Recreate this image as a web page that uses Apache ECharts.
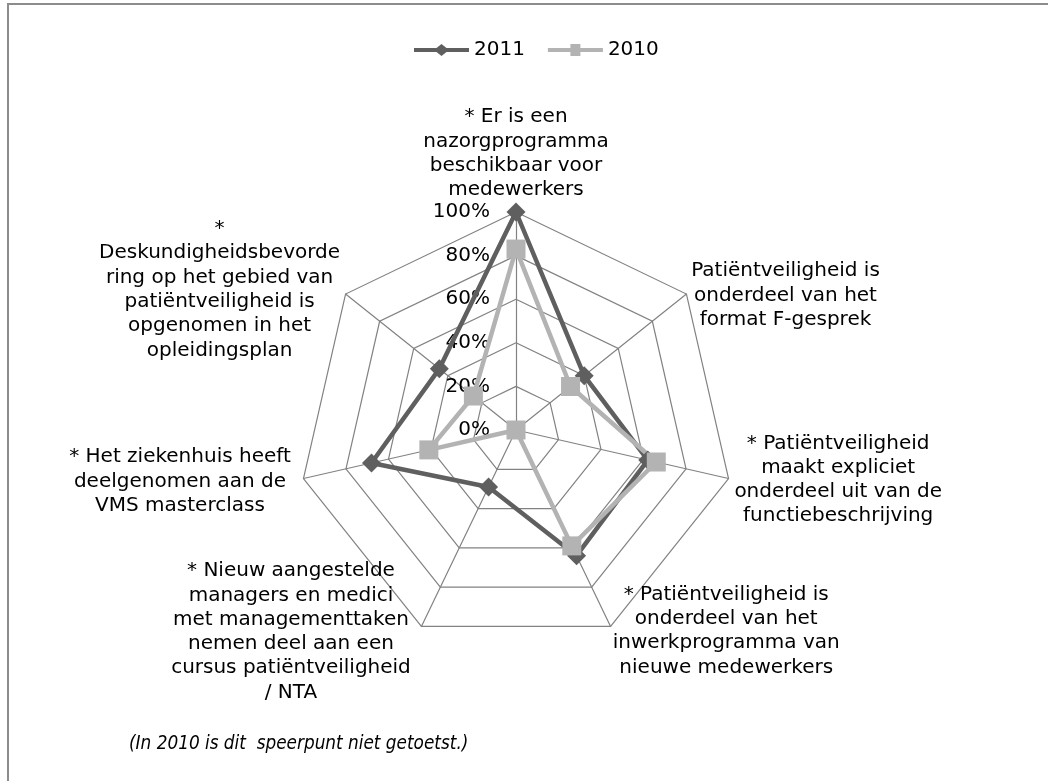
<!DOCTYPE html>
<html>
<head>
<meta charset="utf-8">
<script src="https://cdn.jsdelivr.net/npm/echarts@6/dist/echarts.min.js"></script>
<style>
html,body{margin:0;padding:0;background:#fff;}
#frame{position:absolute;left:7px;top:3px;width:1100px;height:900px;border-top:2px solid #8c8c8c;border-left:2px solid #8c8c8c;}
#chart{position:absolute;left:0;top:0;width:1048px;height:781px;}
</style>
</head>
<body>
<div id="frame"></div>
<div id="chart"></div>
<script>
// Indicators listed clockwise from the top (as in the reference)
const categories = [
  "* Er is een\nnazorgprogramma\nbeschikbaar voor\nmedewerkers",
  "Patiëntveiligheid is\nonderdeel van het\nformat F-gesprek",
  "* Patiëntveiligheid\nmaakt expliciet\nonderdeel uit van de\nfunctiebeschrijving",
  "* Patiëntveiligheid is\nonderdeel van het\ninwerkprogramma van\nnieuwe medewerkers",
  "* Nieuw aangestelde\nmanagers en medici\nmet managementtaken\nnemen deel aan een\ncursus patiëntveiligheid\n/ NTA",
  "* Het ziekenhuis heeft\ndeelgenomen aan de\nVMS masterclass",
  "*\nDeskundigheidsbevorde\nring op het gebied van\npatiëntveiligheid is\nopgenomen in het\nopleidingsplan"
];
const values2011 = [100, 40, 62, 64, 29, 68, 45];
const values2010 = [83, 32, 66, 59, 0, 41, 25];
const seriesNames = ["2011", "2010"];
const tickLabels = ["0%", "20%", "40%", "60%", "80%", "100%"];
const footnote = "(In 2010 is dit  speerpunt niet getoetst.)";

// ---- layout / style (not data) ----
// ECharts lays indicators counter-clockwise; reorder so they appear clockwise
const order = [0, 6, 5, 4, 3, 2, 1];
const nameGaps = [8, 6, 6, 5, 6, 13, 7];
const namePads = [null, [10, 0, 0, 0], null, null, [0, 8, 0, 0], null, null];
const FONT = "'DejaVu Sans', Verdana, sans-serif";
const FS = 20;
const LH = 24.3;
const DARK = '#5f5f5f';
const LIGHT = '#b3b3b3';

const indicator = order.map((i, k) => {
  const ind = { name: categories[i], min: 0, max: 100, nameGap: nameGaps[i] };
  if (namePads[i]) ind.nameTextStyle = { padding: namePads[i] };
  if (k === 0) {
    ind.axisLabel = {
      show: true,
      color: '#000',
      fontFamily: FONT,
      fontSize: FS,
      margin: 26,
      padding: [5, 0, 0, 0],
      formatter: function (v) { return tickLabels[Math.round(v / 20)]; }
    };
  }
  return ind;
});

const legendIcons = [
  'path://M0,4 H22.5 L27.5,0 L32.5,4 H55 V8 H32.5 L27.5,12 L22.5,8 H0 Z',
  'path://M0,4 H22.5 V0 H32.5 V4 H55 V8 H32.5 V12 H22.5 V8 H0 Z'
];

const chart = echarts.init(document.getElementById('chart'), null, { renderer: 'canvas' });
chart.setOption({
  animation: false,
  backgroundColor: 'transparent',
  title: {
    text: footnote,
    left: 129,
    top: 735,
    padding: 0,
    textStyle: {
      fontFamily: "'Liberation Sans Narrow', 'DejaVu Sans Condensed', sans-serif",
      fontStyle: 'italic',
      fontWeight: 'normal',
      fontSize: 18.8,
      color: '#000'
    }
  },
  legend: {
    data: seriesNames.map((n, i) => ({ name: n, icon: legendIcons[i] })),
    left: 414,
    top: 40,
    padding: 0,
    itemWidth: 55,
    itemHeight: 12,
    itemGap: 23,
    textStyle: { fontFamily: FONT, fontSize: FS, color: '#000' }
  },
  radar: {
    center: [516, 430],
    radius: 218,
    startAngle: 90,
    shape: 'polygon',
    splitNumber: 5,
    indicator: indicator,
    axisName: {
      color: '#000',
      fontFamily: FONT,
      fontSize: FS,
      lineHeight: LH,
      formatter: function (name) {
        return name.split('\n').map(function (l) { return '{c|' + l + '}'; }).join('\n');
      },
      rich: {
        c: { align: 'center', color: '#000', fontFamily: FONT, fontSize: FS, lineHeight: LH }
      }
    },
    axisLabel: { show: false },
    axisTick: { show: false },
    axisLine: { lineStyle: { color: '#828282', width: 1.2 } },
    splitLine: { lineStyle: { color: '#828282', width: 1.2 } },
    splitArea: { show: false }
  },
  series: [
    {
      name: seriesNames[0],
      type: 'radar',
      symbol: 'diamond',
      symbolSize: 19,
      lineStyle: { color: DARK, width: 4.5 },
      itemStyle: { color: DARK },
      emphasis: { disabled: true },
      data: [{ name: seriesNames[0], value: order.map(i => values2011[i]) }]
    },
    {
      name: seriesNames[1],
      type: 'radar',
      symbol: 'rect',
      symbolSize: 19,
      lineStyle: { color: LIGHT, width: 4.5 },
      itemStyle: { color: LIGHT },
      emphasis: { disabled: true },
      data: [{ name: seriesNames[1], value: order.map(i => values2010[i]) }]
    }
  ]
});
</script>
</body>
</html>
